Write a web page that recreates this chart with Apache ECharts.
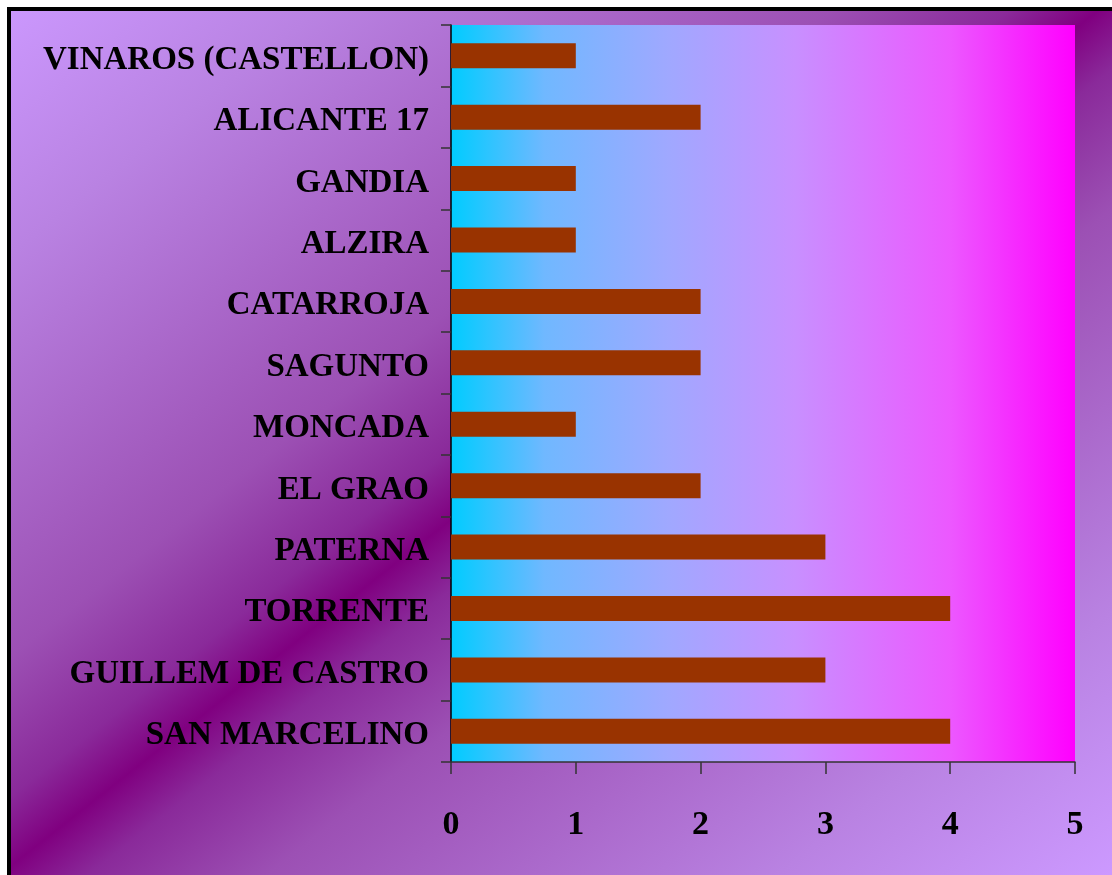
<!DOCTYPE html>
<html>
<head>
<meta charset="utf-8">
<script src="https://cdn.jsdelivr.net/npm/echarts@6/dist/echarts.min.js"></script>
<style>
    html, body { margin: 0; padding: 0; background: #fff; }
    #chart { width: 1112px; height: 875px; }
</style>
</head>
<body>
<div id="chart"></div>
<script>
// categories bottom -> top
let offices = ["SAN MARCELINO", "GUILLEM DE CASTRO", "TORRENTE", "PATERNA", "EL GRAO", "MONCADA",
    "SAGUNTO", "CATARROJA", "ALZIRA", "GANDIA", "ALICANTE 17", "VINAROS (CASTELLON)"];
let counts = [4, 3, 4, 3, 2, 1, 2, 2, 1, 1, 2, 1];
let xTicks = [0, 1, 2, 3, 4, 5];

let labelFont = {
    fontFamily: "Liberation Serif",
    fontWeight: "bold",
    color: "#000",
};

let chart = echarts.init(document.getElementById("chart"));

let options = {
    backgroundColor: "#fff",
    animation: false,
    graphic: [
        {
            type: "rect",
            z: -10,
            shape: { x: 9, y: 9, width: 1200, height: 1000 },
            style: {
                fill: new echarts.graphic.LinearGradient(131, -103, 981, 977, [
                    { offset: 0, color: "#cc99ff" },
                    { offset: 0.15, color: "#b982e2" },
                    { offset: 0.38, color: "#9c50b4" },
                    { offset: 0.46, color: "#8a2a9a" },
                    { offset: 0.5, color: "#800080" },
                    { offset: 0.54, color: "#8a2a9a" },
                    { offset: 0.62, color: "#9c50b4" },
                    { offset: 0.85, color: "#b982e2" },
                    { offset: 1, color: "#cc99ff" },
                ], true),
                stroke: "#000",
                lineWidth: 4,
            },
        },
    ],
    grid: {
        left: 451,
        top: 25,
        width: 624,
        height: 737,
        show: true,
        borderWidth: 0,
        backgroundColor: {
            type: "linear",
            x: 0, y: 0, x2: 1, y2: 0,
            colorStops: [
                { offset: 0, color: "#00ccff" },
                { offset: 0.15, color: "#70b8ff" },
                { offset: 0.35, color: "#a0a8ff" },
                { offset: 0.55, color: "#c890ff" },
                { offset: 0.8, color: "#ec58ff" },
                { offset: 1, color: "#ff00ff" },
            ],
        },
        outerBoundsMode: "none",
    },
    xAxis: {
        type: "value",
        min: 0,
        max: 5,
        interval: 1,
        splitLine: { show: false },
        axisLine: {
            show: true,
            lineStyle: { color: "#333", width: 1.5 },
        },
        axisTick: {
            show: true,
            length: 12,
            lineStyle: { color: "#333", width: 1.5 },
        },
        axisLabel: {
            ...labelFont,
            fontSize: 34,
            margin: 46,
            formatter: v => xTicks.includes(v) ? String(v) : "",
        },
    },
    yAxis: {
        type: "category",
        data: offices,
        axisLine: {
            show: true,
            lineStyle: { color: "#000", width: 1.5 },
        },
        axisTick: {
            show: true,
            length: 10,
            lineStyle: { color: "#333", width: 1.5 },
        },
        axisLabel: {
            ...labelFont,
            fontSize: 33,
            margin: 22,
            formatter: v => `{n|${v}}`,
            rich: {
                n: {
                    ...labelFont,
                    fontSize: 33,
                    padding: [9, 0, 0, 0],
                },
            },
        },
    },
    series: [
        {
            type: "bar",
            data: counts,
            barWidth: 25,
            itemStyle: { color: "#993300" },
        },
    ],
};

chart.setOption(options);
</script>
</body>
</html>
